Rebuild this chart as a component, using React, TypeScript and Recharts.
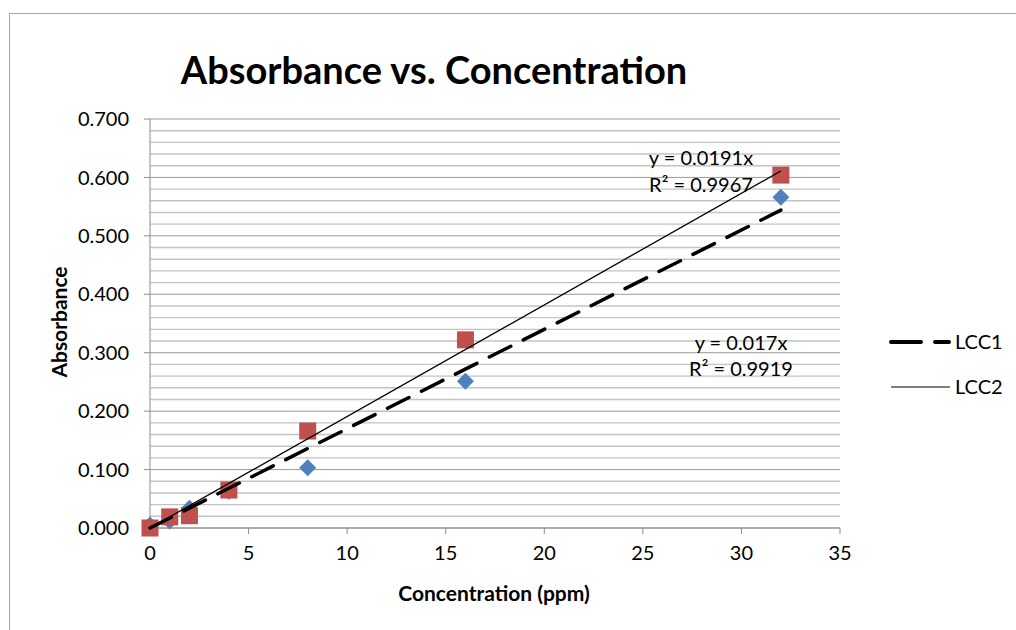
import React from 'react';
import { ComposedChart, Scatter, XAxis, YAxis, CartesianGrid, ReferenceLine } from 'recharts';

const lcc1 = [
  { x: 0, y: 0.005 }, { x: 1, y: 0.012 }, { x: 2, y: 0.034 }, { x: 4, y: 0.063 },
  { x: 8, y: 0.103 }, { x: 16, y: 0.251 }, { x: 32, y: 0.566 },
];
const lcc2 = [
  { x: 0, y: 0.0 }, { x: 1, y: 0.019 }, { x: 2, y: 0.021 }, { x: 4, y: 0.065 },
  { x: 8, y: 0.166 }, { x: 16, y: 0.322 }, { x: 32, y: 0.604 },
];
const trend1 = [{ x: 0, y: 0 }, { x: 32, y: 0.544 }];
const trend2 = [{ x: 0, y: 0 }, { x: 32, y: 0.611 }];
const xTicks = [0, 5, 10, 15, 20, 25, 30, 35];
const yTicks = [0, 0.1, 0.2, 0.3, 0.4, 0.5, 0.6, 0.7];
const minorY = [0.02, 0.04, 0.06, 0.08, 0.12, 0.14, 0.16, 0.18, 0.22, 0.24, 0.26, 0.28, 0.32, 0.34, 0.36, 0.38, 0.42, 0.44, 0.46, 0.48, 0.52, 0.54, 0.56, 0.58, 0.62, 0.64, 0.66, 0.68];

const FONT = 'Lato, "Open Sans", sans-serif';

const Diamond = (p: any) => {
  const { cx, cy } = p;
  const r = 8.5;
  return <path d={`M${cx},${cy - r}L${cx + r},${cy}L${cx},${cy + r}L${cx - r},${cy}Z`} fill="#4F81BD" />;
};
const Square = (p: any) => {
  const { cx, cy } = p;
  const h = 8.5;
  return <rect x={cx - h} y={cy - h} width={h * 2} height={h * 2} fill="#C0504D" />;
};
const NoShape = () => <g />;

export default function App() {
  return (
    <div style={{ position: 'absolute', left: 0, top: 0, width: 1016, height: 630, overflow: 'hidden', background: '#fff', fontFamily: FONT }}>
      <div style={{ position: 'absolute', left: 9, top: 13, width: 1100, height: 700, border: '1px solid #a6a6a6' }} />
      <div style={{ position: 'absolute', left: 0, top: 0 }}>
        <ComposedChart width={1016} height={630} margin={{ top: 119, right: 176, bottom: 42, left: 0 }}>
          <CartesianGrid vertical={false} stroke="#9a9a9a" horizontalValues={yTicks} />
          {minorY.map((v) => (
            <ReferenceLine key={v} y={v} stroke="#c3c3c3" strokeWidth={1.4} ifOverflow="visible" />
          ))}
          <XAxis
            type="number"
            dataKey="x"
            domain={[0, 35]}
            ticks={xTicks}
            interval={0}
            stroke="#8c8c8c"
            tickSize={6}
            tickMargin={12}
            height={60}
            tick={{ fill: '#000', fontSize: 20, fontFamily: FONT }}
          />
          <YAxis
            type="number"
            dataKey="y"
            domain={[0, 0.7]}
            ticks={yTicks}
            interval={0}
            width={150}
            stroke="#8c8c8c"
            tickSize={6}
            tickMargin={15}
            tickFormatter={(v: number) => v.toFixed(3)}
            tick={{ fill: '#000', fontSize: 20, fontFamily: FONT }}
          />
          <Scatter data={lcc1} shape={Diamond} isAnimationActive={false} />
          <Scatter data={lcc2} shape={Square} isAnimationActive={false} />
          <Scatter
            data={trend1}
            shape={NoShape}
            line={{ stroke: '#000', strokeWidth: 3.5, strokeDasharray: '24 14', strokeLinecap: 'round' } as any}
            lineType="joint"
            isAnimationActive={false}
          />
          <Scatter
            data={trend2}
            shape={NoShape}
            line={{ stroke: '#000', strokeWidth: 1.3 } as any}
            lineType="joint"
            isAnimationActive={false}
          />
        </ComposedChart>
      </div>
      <svg width={1016} height={630} style={{ position: 'absolute', left: 0, top: 0, pointerEvents: 'none' }} fontFamily={FONT}>
        <text x={434} y={84} textAnchor="middle" fontSize={38} fontWeight="bold" fill="#000">Absorbance vs. Concentration</text>
        <text x={494} y={601} textAnchor="middle" fontSize={21} fontWeight="bold" fill="#000">Concentration (ppm)</text>
        <text transform="translate(67,322) rotate(-90)" textAnchor="middle" fontSize={21} fontWeight="bold" fill="#000">Absorbance</text>
        <text x={701} y={165} textAnchor="middle" fontSize={20} fill="#000">y = 0.0191x</text>
        <text x={701} y={192} textAnchor="middle" fontSize={20} fill="#000">R² = 0.9967</text>
        <text x={741} y={350} textAnchor="middle" fontSize={20} fill="#000">y = 0.017x</text>
        <text x={741} y={376} textAnchor="middle" fontSize={20} fill="#000">R² = 0.9919</text>
        <line x1={891} y1={342} x2={921} y2={342} stroke="#000" strokeWidth={4} strokeLinecap="round" />
        <line x1={935} y1={342} x2={949} y2={342} stroke="#000" strokeWidth={4} strokeLinecap="round" />
        <text x={955} y={349} fontSize={20} fill="#000">LCC1</text>
        <line x1={891} y1={387} x2={950} y2={387} stroke="#000" strokeWidth={1.2} />
        <text x={955} y={394} fontSize={20} fill="#000">LCC2</text>
      </svg>
    </div>
  );
}
